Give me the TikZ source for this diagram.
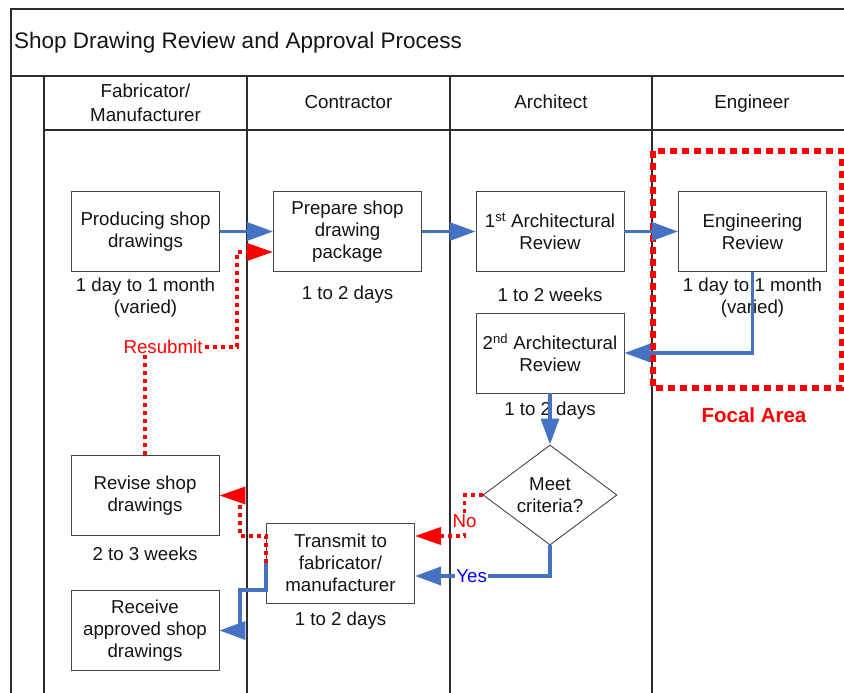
\documentclass[tikz,border=0pt]{standalone}
\usepackage{fontspec}
\setmainfont{Liberation Sans}
\usetikzlibrary{arrows.meta,shapes.geometric,calc}
\definecolor{flowblue}{RGB}{70,114,196}
\definecolor{laneline}{RGB}{45,45,45}
\definecolor{boxline}{RGB}{70,70,70}
\definecolor{txt}{RGB}{20,20,20}
\begin{document}
\begin{tikzpicture}[x=1pt,y=-1pt,
  every node/.style={font=\fontsize{18.7}{22}\selectfont, text=txt},
  lane/.style={draw=laneline, line width=1.3pt},
  box/.style={draw=boxline, line width=0.9pt, fill=white, minimum width=148pt, minimum height=80pt, inner sep=0pt, align=center},
  decision/.style={diamond, draw=boxline, line width=0.9pt, fill=white, aspect=1.34, minimum width=134pt, minimum height=100pt, inner sep=0pt, align=center},
  dur/.style={align=center, inner sep=0pt},
  header/.style={align=center, font=\fontsize{18.8}{24}\selectfont},
  blueflow/.style={draw=flowblue, line width=3.5pt, -{Triangle[length=26pt,width=18pt]}},
  redflow/.style={draw=red, line width=3.6pt, dash pattern=on 4pt off 4pt, -{Triangle[length=26pt,width=17pt]}},
  focal/.style={draw=red, line width=6pt, dash pattern=on 7pt off 5pt},
  redlabel/.style={text=red, fill=white, inner sep=1pt},
  bluelabel/.style={text=blue, fill=white, inner sep=1pt}
]
\useasboundingbox (0,0) rectangle (844,693);

% frame and lanes
\draw[lane] (844,9) -- (11,9) -- (11,693);
\draw[lane] (11,76) -- (844,76);
\draw[lane] (44,76) -- (44,693);
\draw[lane] (44,130) -- (844,130);
\draw[lane] (247,76) -- (247,693);
\draw[lane] (450,76) -- (450,693);
\draw[lane] (652,76) -- (652,693);

\node[anchor=west, inner sep=0pt, font=\fontsize{22.5}{26}\selectfont] (title) at (14,42.5) {Shop Drawing Review and Approval Process};

\node[header] (hfab) at (145.5,102.5) {Fabricator/\\Manufacturer};
\node[header, anchor=base] (hcon) at (348.5,109) {Contractor};
\node[header, anchor=base] (harc) at (551,109) {Architect};
\node[header, anchor=base] (heng) at (752,109) {Engineer};

% focal area
\draw[focal] (653,151) rectangle (842,388);
\node[text=red, font=\bfseries\fontsize{20.5}{24}\selectfont] (focallbl) at (754,415) {Focal Area};

% process boxes
\node[box] (prod) at (145.5,231.5) {Producing shop\\drawings};
\node[box] (prep) at (347.5,231.5) {Prepare shop\\drawing\\package};
\node[box] (arch1) at (550,231.5) {1\textsuperscript{st} Architectural\\Review};
\node[box] (eng) at (752.5,231.5) {Engineering\\Review};
\node[box] (arch2) at (550,353) {2\textsuperscript{nd} Architectural\\Review};
\node[decision] (dia) at (550,495) {Meet\\criteria?};
\node[box] (revise) at (145,495.5) {Revise shop\\drawings};
\node[box] (transmit) at (340.5,563) {Transmit to\\fabricator/\\manufacturer};
\node[box] (receive) at (145,630.5) {Receive\\approved shop\\drawings};

% durations
\node[dur] (dprod) at (145.5,297.5) {1 day to 1 month\\(varied)};
\node[dur] (dprep) at (347.5,294.5) {1 to 2 days};
\node[dur] (darch1) at (550,294.5) {1 to 2 weeks};
\node[dur] (deng) at (752.5,297.5) {1 day to 1 month\\(varied)};
\node[dur] (darch2) at (550,411) {1 to 2 days};
\node[dur] (drev) at (145,554) {2 to 3 weeks};
\node[dur] (dtra) at (340.5,621) {1 to 2 days};

% blue flow
\draw[blueflow] (prod) -- (prep);
\draw[blueflow] (prep) -- (arch1);
\draw[blueflow] (arch1) -- (eng);
\draw[blueflow] (eng.south) |- (arch2.east);
\draw[blueflow] (arch2) -- (dia);
\draw[blueflow] (dia.south) |- node[bluelabel, pos=0.79] {Yes} ($(transmit.east)+(0,13)$);
\draw[blueflow] (transmit.west) -- ++(0,27) -- ++(-26,0) |- (receive.east);

% red flow
\draw[redflow] (dia.west) -- ++(-18,0) |- node[redlabel, pos=0.32] {No} ($(transmit.east)+(0,-27)$);
\draw[redflow] (transmit.west) -- ++(0,-27) -- ++(-26,0) |- (revise.east);
\draw[redflow] (revise.north) -- ++(0,-108) node[redlabel, pos=1, xshift=18pt] {Resubmit} -- ++(92,0) |- ($(prep.west)+(0,20.5)$);

\end{tikzpicture}
\end{document}
